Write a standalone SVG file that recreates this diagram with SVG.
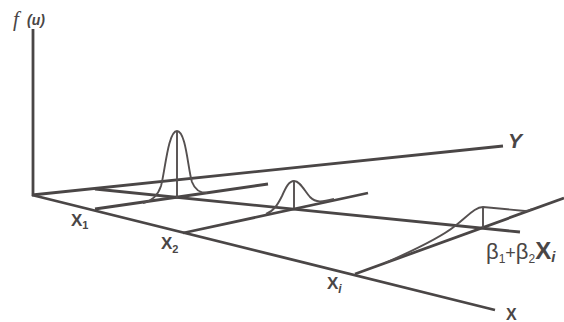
<svg xmlns="http://www.w3.org/2000/svg" width="564" height="322" viewBox="0 0 564 322">
<style>
.ax{stroke:#4a4646;stroke-width:2.8;fill:none;stroke-linecap:butt}
.bell{stroke:#555050;stroke-width:1.9;fill:none}
text{font-family:"Liberation Sans",Arial,sans-serif;fill:#4a4646}
.b{font-weight:bold}
.i{font-style:italic}
</style>
<rect width="564" height="322" fill="#ffffff"/>
<g id="connectors">
<line class="ax" x1="33" y1="29" x2="33" y2="196"/>
<line class="ax" x1="32" y1="195" x2="503" y2="146"/>
<line class="ax" x1="32" y1="195" x2="495" y2="310"/>
<line class="ax" x1="95" y1="189" x2="520" y2="232"/>
<line class="ax" x1="95" y1="209" x2="268" y2="184"/>
<line class="ax" x1="183" y1="233" x2="368" y2="193"/>
<line class="ax" x1="355" y1="274" x2="564" y2="198"/>
</g>
<g id="bell1">
<path class="bell" d="M 143,203 C 152,201 158,195 161,186 C 165,172 168,131 177,131 C 186,131 188,170 192,182 C 195,190 200,193 207,193"/>
<line class="bell" x1="177" y1="131" x2="177" y2="198"/>
</g>
<g id="bell2">
<path class="bell" d="M 266,214 C 274,211 278,204 282,196 C 286,187 289,181 294,181 C 300,181 304,190 310,197 C 316,203 322,202 334,199"/>
<line class="bell" x1="294" y1="181" x2="294" y2="208"/>
</g>
<g id="bell3">
<path class="bell" d="M 385,263 C 410,252 440,238 455,226 C 468,216 475,207 483,207 L 525,211 C 528,211 530,210 532,209"/>
<line class="bell" x1="483" y1="207" x2="483" y2="228"/>
</g>
<g id="label-fu">
<text x="13" y="26" font-size="21" class="i" style="font-family:'Liberation Serif',serif">f</text>
<text x="27" y="25" font-size="14" class="b i">(u)</text>
</g>
<g id="label-Y"><text x="508" y="148" font-size="21" class="b i">Y</text></g>
<g id="label-X"><text x="506" y="320" font-size="16" class="b">X</text></g>
<g id="label-X1"><text x="71" y="226" font-size="17" class="b">X<tspan font-size="11" dy="3">1</tspan></text></g>
<g id="label-X2"><text x="161" y="249" font-size="17" class="b">X<tspan font-size="11" dy="4">2</tspan></text></g>
<g id="label-Xi"><text x="327" y="289" font-size="17" class="b">X<tspan font-size="12" dy="4" class="i">i</tspan></text></g>
<g id="label-beta"><text x="486" y="259" font-size="22">β<tspan font-size="12" dy="4">1</tspan><tspan font-size="18" dy="-4">+</tspan>β<tspan font-size="12" dy="4">2</tspan><tspan font-size="24" dy="-4" class="b">X</tspan><tspan font-size="15" dy="3" class="b i">i</tspan></text></g>
</svg>
